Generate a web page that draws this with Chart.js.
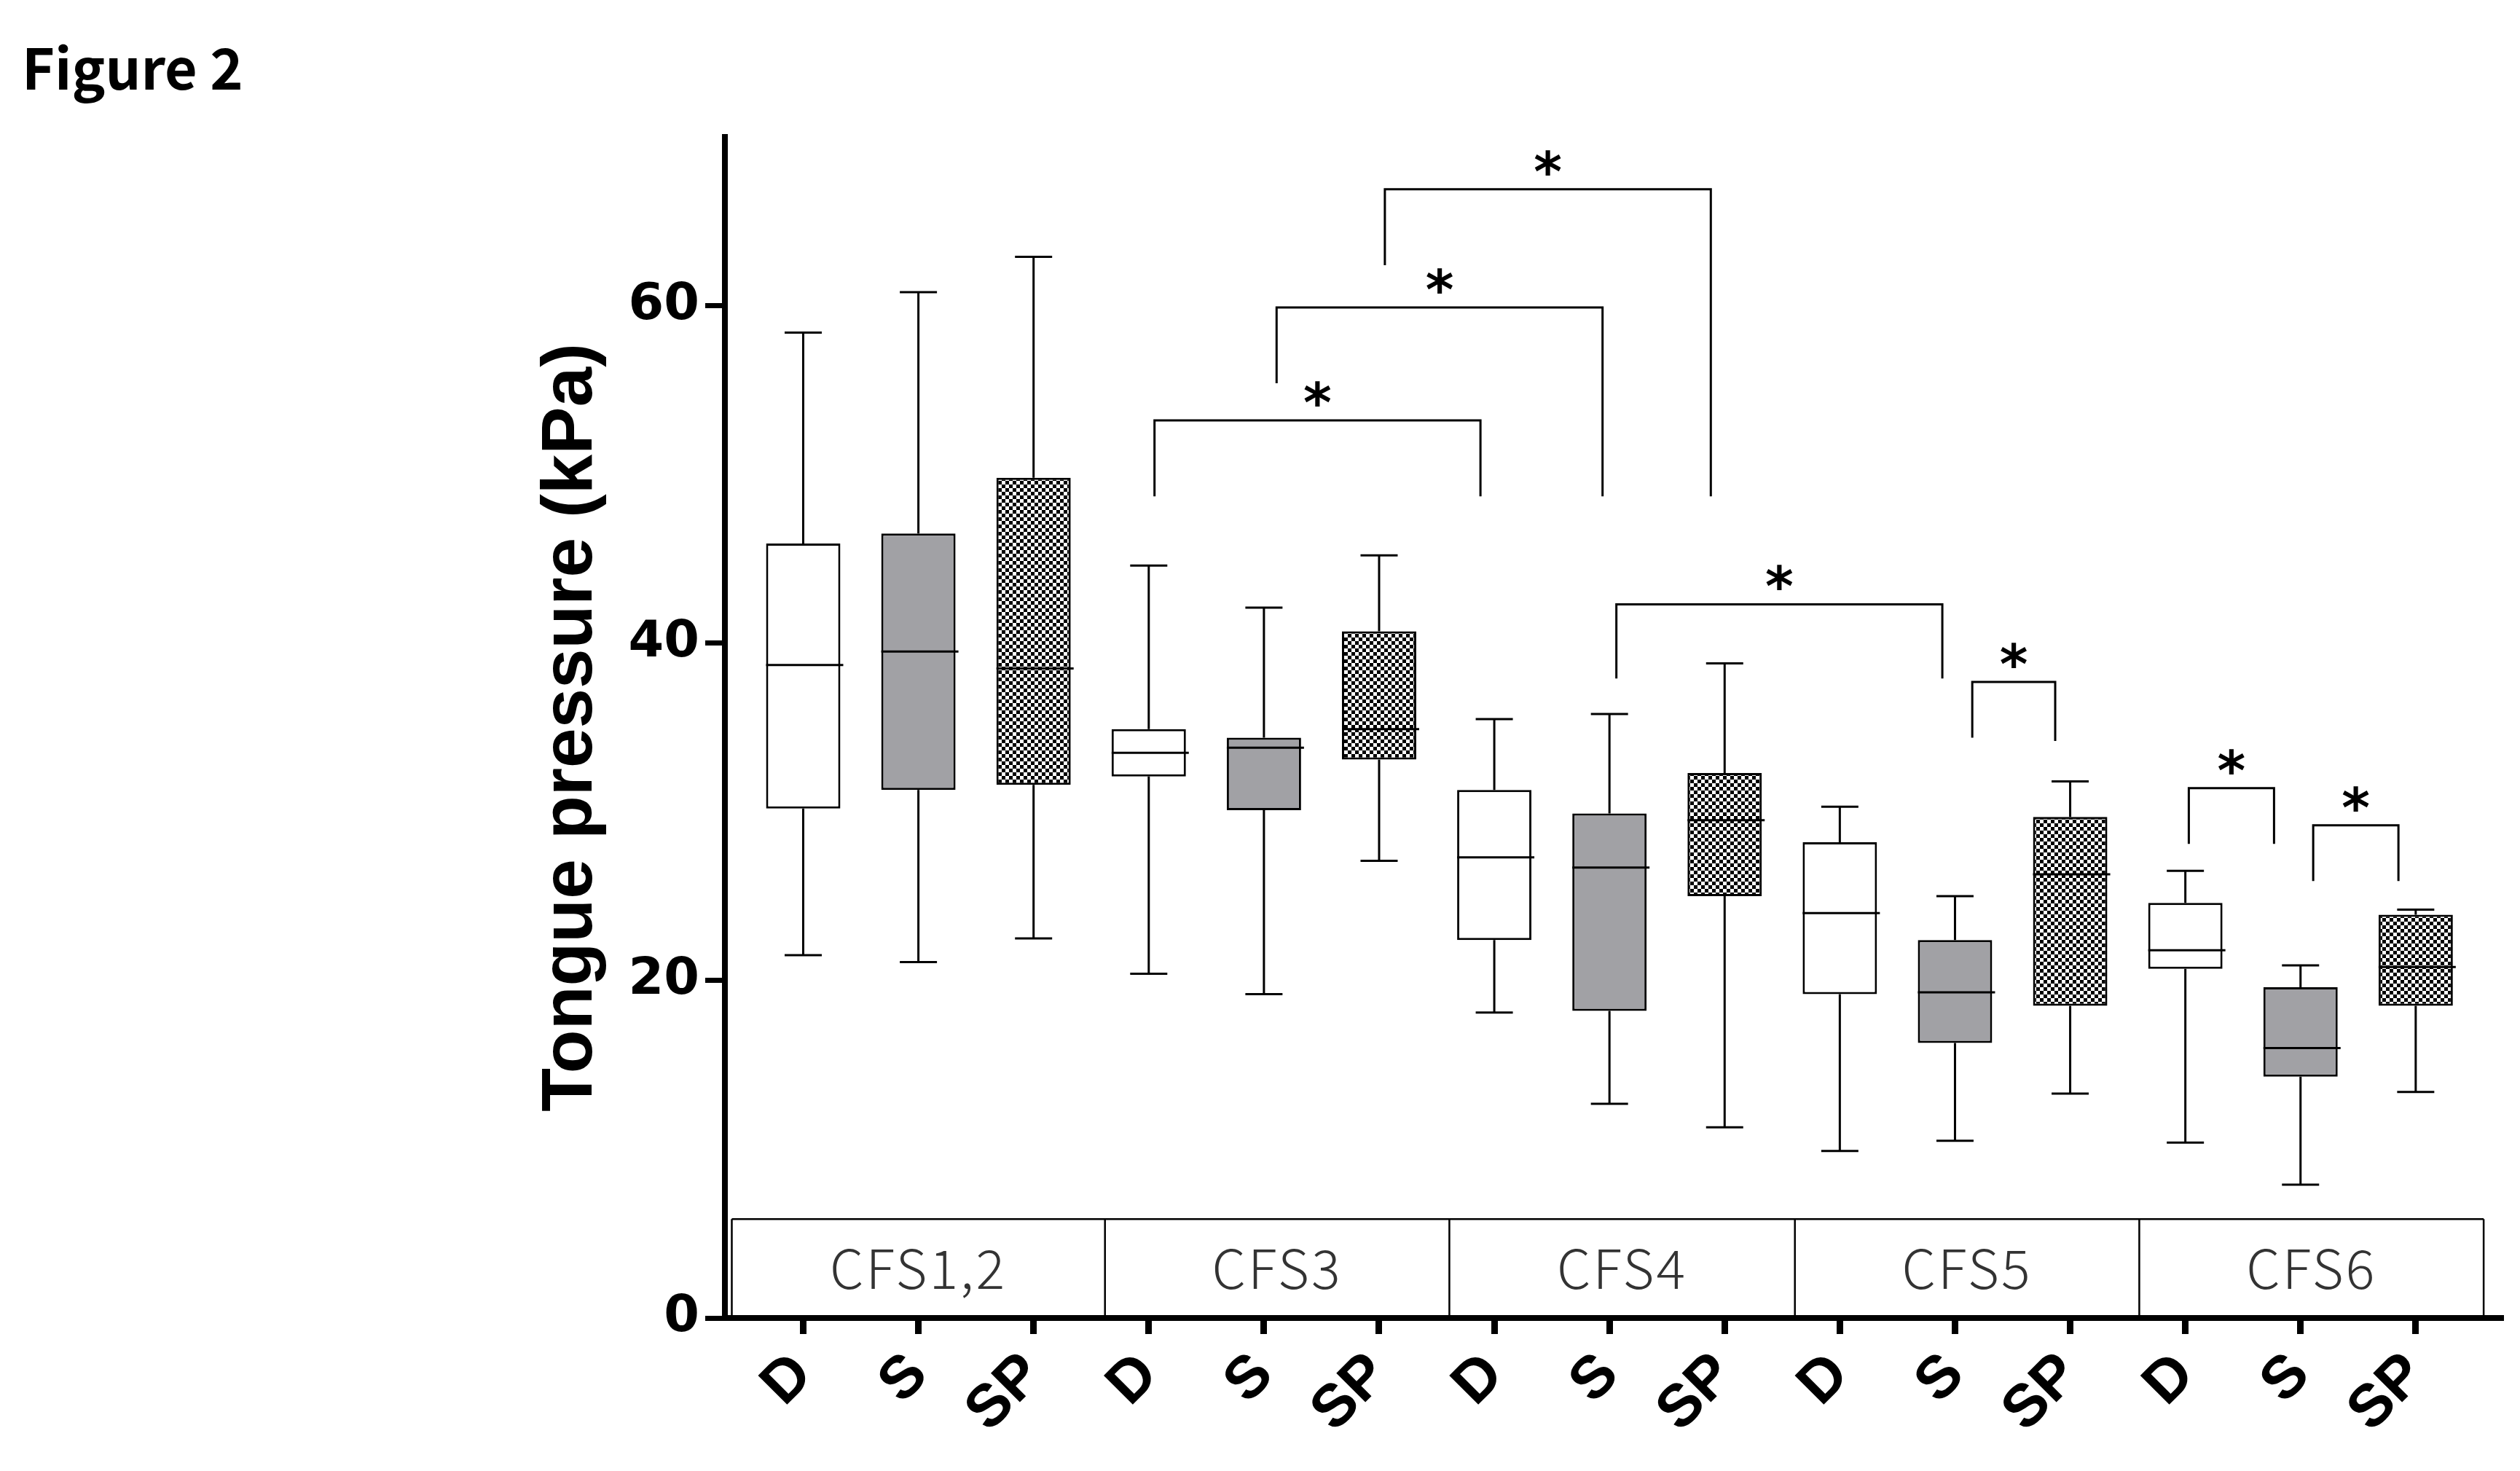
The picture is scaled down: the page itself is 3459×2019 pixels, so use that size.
<!DOCTYPE html>
<html>
<head>
<meta charset="utf-8">
<script src="https://cdn.jsdelivr.net/npm/chart.js@4.4.1/dist/chart.umd.min.js"></script>
<style>
  html, body { margin: 0; padding: 0; background: #fff; }
  canvas { display: block; }
</style>
</head>
<body>
<canvas id="chart" width="3459" height="2019"></canvas>
<script>
// tongue pressure (kPa), one box per category
const categories = ["D", "S", "SP", "D", "S", "SP", "D", "S", "SP", "D", "S", "SP", "D", "S", "SP"]
const groups = ["CFS1,2", "CFS3", "CFS4", "CFS5", "CFS6"]
const whiskerHigh = [58.4, 60.8, 62.9, 44.6, 42.1, 45.2, 35.5, 35.8, 38.8, 30.3, 25.0, 31.8, 26.5, 20.9, 24.2]
const q3 = [45.9, 46.5, 49.8, 34.9, 34.4, 40.7, 31.3, 29.9, 32.3, 28.2, 22.4, 29.7, 24.6, 19.6, 23.9]
const median = [38.7, 39.5, 38.5, 33.5, 33.8, 34.9, 27.3, 26.7, 29.5, 24.0, 19.3, 26.3, 21.8, 16.0, 20.8]
const q1 = [30.2, 31.3, 31.6, 32.1, 30.1, 33.1, 22.4, 18.2, 25.0, 19.2, 16.3, 18.5, 20.7, 14.3, 18.5]
const whiskerLow = [21.5, 21.1, 22.5, 20.4, 19.2, 27.1, 18.1, 12.7, 11.3, 9.9, 10.5, 13.3, 10.4, 7.9, 13.4]
const yTicks = [0, 20, 40, 60]

// significance brackets: [left x, right x, bar height, left leg end, right leg end]
const brackets = [
    [3.05, 5.88, 53.2, 48.7, 48.7],
    [4.11, 6.94, 59.9, 55.4, 48.7],
    [5.05, 7.88, 66.9, 62.4, 48.7],
    [7.06, 9.89, 42.3, 37.9, 37.9],
    [10.15, 10.87, 37.7, 34.4, 34.2],
    [12.03, 12.77, 31.4, 28.1, 28.1],
    [13.11, 13.85, 29.2, 25.9, 25.9],
]

const groupEdges = [-0.62, 2.62, 5.61, 8.61, 11.60, 14.59]
const stripTop = 5.86

function checker() {
    const c = document.createElement("canvas")
    c.width = 10
    c.height = 10
    const g = c.getContext("2d")
    g.fillStyle = "#fff"
    g.fillRect(0, 0, 10, 10)
    g.fillStyle = "#000"
    g.fillRect(0, 0, 5, 5)
    g.fillRect(5, 5, 5, 5)
    return g.createPattern(c, "repeat")
}

const checkerFill = checker()
const fills = categories.map(c => c === "D" ? "#ffffff" : c === "S" ? "#a1a1a5" : checkerFill)

const boxPlugin = {
    id: "boxExtras",
    beforeDatasetsDraw(chart) {
        const { ctx, scales: { x, y } } = chart
        const top = y.getPixelForValue(stripTop)
        const bot = y.getPixelForValue(0)
        ctx.save()
        ctx.strokeStyle = "#000"
        ctx.lineWidth = 2.5
        ctx.beginPath()
        ctx.moveTo(x.getPixelForValue(groupEdges[0]), top)
        ctx.lineTo(x.getPixelForValue(groupEdges[groupEdges.length - 1]), top)
        groupEdges.forEach(e => {
            const px = x.getPixelForValue(e)
            ctx.moveTo(px, top)
            ctx.lineTo(px, bot)
        })
        ctx.stroke()
        ctx.fillStyle = "#333"
        ctx.font = "300 74px 'Noto Sans CJK JP'"
        ctx.letterSpacing = "3px"
        ctx.textAlign = "center"
        ctx.textBaseline = "middle"
        groups.forEach((g, i) => {
            const cx = (x.getPixelForValue(groupEdges[i]) + x.getPixelForValue(groupEdges[i + 1])) / 2
            ctx.fillText(g, cx, (top + bot) / 2)
        })
        ctx.restore()
    },
    afterDatasetsDraw(chart) {
        const { ctx, scales: { x, y } } = chart
        const bars = chart.getDatasetMeta(0).data
        ctx.save()
        ctx.strokeStyle = "#000"
        ctx.lineWidth = 3
        categories.forEach((c, i) => {
            const cx = x.getPixelForValue(i)
            const half = bars[i].width / 2
            const cap = half / 2
            const hi = y.getPixelForValue(whiskerHigh[i])
            const lo = y.getPixelForValue(whiskerLow[i])
            ctx.beginPath()
            ctx.moveTo(cx, y.getPixelForValue(q3[i]))
            ctx.lineTo(cx, hi)
            ctx.moveTo(cx - cap, hi)
            ctx.lineTo(cx + cap, hi)
            ctx.moveTo(cx, y.getPixelForValue(q1[i]))
            ctx.lineTo(cx, lo)
            ctx.moveTo(cx - cap, lo)
            ctx.lineTo(cx + cap, lo)
            const m = y.getPixelForValue(median[i])
            ctx.moveTo(cx - half, m)
            ctx.lineTo(cx + half + 4, m)
            ctx.stroke()
        })

        // brackets and stars
        ctx.fillStyle = "#000"
        ctx.font = "bold 74px 'DejaVu Sans'"
        ctx.textAlign = "center"
        ctx.textBaseline = "alphabetic"
        brackets.forEach(([a, b, t, la, lb]) => {
            const xa = x.getPixelForValue(a)
            const xb = x.getPixelForValue(b)
            const yt = y.getPixelForValue(t)
            ctx.beginPath()
            ctx.moveTo(xa, y.getPixelForValue(la))
            ctx.lineTo(xa, yt)
            ctx.lineTo(xb, yt)
            ctx.lineTo(xb, y.getPixelForValue(lb))
            ctx.stroke()
            ctx.fillText("*", (xa + xb) / 2, yt + 2)
        })
        ctx.restore()
    }
}

const chart = new Chart(document.getElementById("chart"), {
    type: "bar",
    data: {
        datasets: [
            {
                data: categories.map((c, i) => ({ x: i, y: [q1[i], q3[i]] })),
                backgroundColor: fills,
                borderColor: "#000",
                borderWidth: 3,
                borderSkipped: false,
                barPercentage: 0.645,
                categoryPercentage: 1
            }
        ]
    },
    options: {
        responsive: false,
        devicePixelRatio: 1,
        animation: false,
        layout: { padding: { left: 30, right: 23, top: 0, bottom: 0 } },
        plugins: {
            legend: { display: false },
            tooltip: { enabled: false },
            title: {
                display: true,
                text: "Figure 2",
                align: "start",
                color: "#000",
                font: { family: "'Noto Sans CJK JP'", weight: "bold", size: 77 },
                padding: { top: 48, bottom: 47.6 }
            }
        },
        scales: {
            x: {
                type: "linear",
                offset: false,
                min: -0.68,
                max: 14.76,
                afterBuildTicks: s => { s.ticks = categories.map((c, i) => ({ value: i })) },
                afterFit: s => { s.height = 2019 - 1809 },
                ticks: {
                    autoSkip: false,
                    maxRotation: 45,
                    minRotation: 45,
                    padding: 8,
                    color: "#000",
                    font: { family: "'Liberation Sans'", weight: "bold", size: 82 },
                    callback: (v, i) => categories[i]
                },
                grid: { offset: false, drawOnChartArea: false, tickLength: 22, tickWidth: 9, color: "#000" },
                border: { color: "#000", width: 8 }
            },
            y: {
                min: 0,
                max: 70,
                afterBuildTicks: s => { s.ticks = yTicks.map(v => ({ value: v })) },
                afterFit: s => { s.width = 995 - 30 },
                ticks: {
                    padding: 8,
                    color: "#000",
                    font: { family: "'DejaVu Sans'", weight: "bold", size: 70 }
                },
                grid: { drawOnChartArea: false, tickLength: 27, tickWidth: 7, color: "#000" },
                border: { color: "#000", width: 8 },
                title: {
                    display: true,
                    text: "Tongue pressure (kPa)",
                    color: "#000",
                    font: { family: "'Liberation Sans'", weight: "bold", size: 98 },
                    padding: { top: 696, bottom: 0 }
                }
            }
        }
    },
    plugins: [boxPlugin]
})
</script>
</body>
</html>
